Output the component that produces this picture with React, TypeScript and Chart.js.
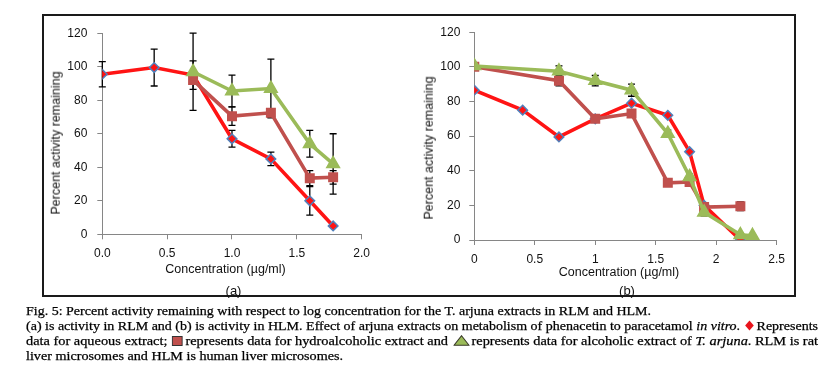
import React, { useEffect, useLayoutEffect, useRef } from "react";
import { Chart, registerables } from "chart.js";
Chart.register(...registerables);

// ---------- Panel (a): RLM ----------
const concAqueousA = [0, 0.4, 0.7, 1.0, 1.3, 1.6, 1.78];
const aqueousA = [95.5, 99.5, 95, 57, 45, 20, 5];
const aqueousErrA = [7.5, 11, 8.5, 5, 4, 8.5, 0];
const concExtractA = [0.7, 1.0, 1.3, 1.6, 1.78];
const hydroA = [92, 70.5, 72.5, 33.5, 34];
const hydroErrA = [2, 5.5, 2.5, 4.5, 4];
const alcoholA = [97, 85.5, 87, 54, 42];
const alcoholErrA = [23, 9.5, 17.5, 8, 18];

// ---------- Panel (b): HLM ----------
const concAqueousB = [0, 0.4, 0.7, 1.0, 1.3, 1.6, 1.78, 1.9, 2.2];
const aqueousB = [86.5, 75, 59.5, 70, 79, 72, 51, 20, 0];
const aqueousErrB = [0, 0, 0, 0, 0, 0, 0, 0, 0];
const concHydroB = [0, 0.7, 1.0, 1.3, 1.6, 1.78, 1.9, 2.2];
const hydroB = [100, 92, 70, 73, 33, 33.5, 19, 19.5];
const hydroErrB = [0, 3, 1, 1, 1, 2, 1, 2.5];
const concAlcoholB = [0, 0.7, 1.0, 1.3, 1.6, 1.78, 1.9, 2.2, 2.3];
const alcoholB = [100.5, 97.5, 92, 86.5, 61.5, 36.5, 16, 3, 2.5];
const alcoholErrB = [0, 3, 3, 3.5, 2, 1.5, 2, 0, 0];

// ---------- Tick labels ----------
const xTickLabelsA = ["0.0", "0.5", "1.0", "1.5", "2.0"];
const xTickLabelsB = ["0", "0.5", "1", "1.5", "2", "2.5"];
const yTickLabels = ["0", "20", "40", "60", "80", "100", "120"];

const RED = "#ff1414";
const BROWN = "#c0504d";
const GREEN = "#9bbb59";
const BLUE = "#4f81bd";
const AXIS = "#868686";
const TEXT = "#111";
const SANS = "'Liberation Sans', Arial, sans-serif";

const errorBarPlugin = {
  id: "errorBars",
  beforeDatasetsDraw(chart: any) {
    const { ctx } = chart;
    const ys = chart.scales.y;
    ctx.save();
    ctx.strokeStyle = "#000";
    ctx.lineWidth = 1.3;
    chart.data.datasets.forEach((ds: any, di: number) => {
      const errs = ds.errors;
      if (!errs) return;
      const meta = chart.getDatasetMeta(di);
      meta.data.forEach((pt: any, i: number) => {
        const e = errs[i];
        if (!e) return;
        const v = ds.data[i].y;
        const x = pt.x;
        const y1 = ys.getPixelForValue(v + e);
        const y2 = ys.getPixelForValue(v - e);
        ctx.beginPath();
        ctx.moveTo(x, y1);
        ctx.lineTo(x, y2);
        ctx.moveTo(x - 3.5, y1);
        ctx.lineTo(x + 3.5, y1);
        ctx.moveTo(x - 3.5, y2);
        ctx.lineTo(x + 3.5, y2);
        ctx.stroke();
      });
    });
    ctx.restore();
  },
};

function series(
  label: string,
  xs: number[],
  ys: number[],
  errs: number[],
  color: string,
  style: string,
  radius: number,
  border: string,
  order: number
) {
  return {
    label,
    data: xs.map((x, i) => ({ x, y: ys[i] })),
    errors: errs,
    borderColor: color,
    backgroundColor: color,
    borderWidth: 3.6,
    pointStyle: style,
    pointRadius: radius,
    pointBackgroundColor: color,
    pointBorderColor: border,
    pointBorderWidth: 1.5,
    tension: 0,
    order,
  };
}

function makeConfig(
  datasets: any[],
  xMax: number,
  xTicks: string[],
  yWidth: number,
  xHeight: number,
  padRight: number,
  padTop: number,
  yPad: number
): any {
  return {
    type: "line",
    data: { datasets },
    plugins: [errorBarPlugin],
    options: {
      animation: false,
      responsive: false,
      devicePixelRatio: 1,
      layout: { padding: { left: 0, right: padRight, top: padTop, bottom: 0 } },
      plugins: { legend: { display: false }, tooltip: { enabled: false } },
      scales: {
        x: {
          type: "linear",
          min: 0,
          max: xMax,
          ticks: {
            stepSize: 0.5,
            padding: 7,
            maxRotation: 0,
            color: TEXT,
            font: { family: SANS, size: 12 },
            callback: (v: any) => xTicks[Math.round(Number(v) / 0.5)],
          },
          grid: { drawOnChartArea: false, drawTicks: true, tickLength: 5, color: AXIS },
          border: { color: AXIS, width: 1 },
          afterFit: (s: any) => {
            s.height = xHeight;
          },
        },
        y: {
          min: 0,
          max: 120,
          ticks: {
            stepSize: 20,
            padding: yPad,
            color: TEXT,
            font: { family: SANS, size: 12 },
            callback: (v: any) => yTickLabels[Math.round(Number(v) / 20)],
          },
          grid: { drawOnChartArea: false, drawTicks: true, tickLength: 5, color: AXIS },
          border: { color: AXIS, width: 1 },
          afterFit: (s: any) => {
            s.width = yWidth;
          },
        },
      },
    },
  };
}

function Diamond() {
  return (
    <svg width="9" height="11" style={{ verticalAlign: "-1px", margin: "0 2px 0 1px" }}>
      <polygon points="4.5,0.5 8.5,5.5 4.5,10.5 0.5,5.5" fill="#e8141c" />
    </svg>
  );
}
function Square() {
  return (
    <svg width="10" height="10" style={{ verticalAlign: "-1px", margin: "0 2px 0 1px" }}>
      <rect x="0.5" y="0.5" width="9" height="9" fill={BROWN} stroke="#333" strokeWidth="1" />
    </svg>
  );
}
function Triangle() {
  return (
    <svg width="15" height="11" style={{ verticalAlign: "-1px", margin: "0 2px 0 1px" }}>
      <polygon points="7.5,0.7 14.3,10.3 0.7,10.3" fill={GREEN} stroke="#3a3a2a" strokeWidth="1" />
    </svg>
  );
}

const captionTargets = [625, 792, 792, 317];

export default function App() {
  const refA = useRef<HTMLCanvasElement | null>(null);
  const refB = useRef<HTMLCanvasElement | null>(null);
  const lineRefs = useRef<(HTMLDivElement | null)[]>([]);

  useEffect(() => {
    const dsA = [
      series("Aqueous", concAqueousA, aqueousA, aqueousErrA, RED, "rectRot", 4.8, BLUE, 2),
      series("Hydroalcoholic", concExtractA, hydroA, hydroErrA, BROWN, "rect", 6, BROWN, 1),
      series("Alcoholic", concExtractA, alcoholA, alcoholErrA, GREEN, "triangle", 7.3, GREEN, 0),
    ];
    const dsB = [
      series("Aqueous", concAqueousB, aqueousB, aqueousErrB, RED, "rectRot", 4.8, BLUE, 2),
      series("Hydroalcoholic", concHydroB, hydroB, hydroErrB, BROWN, "rect", 6, BROWN, 1),
      series("Alcoholic", concAlcoholB, alcoholB, alcoholErrB, GREEN, "triangle", 7.3, GREEN, 0),
    ];
    const cA = new Chart(refA.current as any, makeConfig(dsA, 2, xTickLabelsA, 58.3, 59.7, 9, 10, 10));
    const cB = new Chart(refB.current as any, makeConfig(dsB, 2.5, xTickLabelsB, 70.3, 54, 8.7, 10.7, 9));
    return () => {
      cA.destroy();
      cB.destroy();
    };
  }, []);

  useLayoutEffect(() => {
    lineRefs.current.forEach((el, i) => {
      if (!el) return;
      el.style.transform = "none";
      const w = el.getBoundingClientRect().width;
      if (w > 0) el.style.transform = `scaleX(${captionTargets[i] / w})`;
    });
  }, []);

  const centered = (cx: number, cy: number, size: number, rotate = false): React.CSSProperties => ({
    position: "absolute",
    left: cx,
    top: cy,
    transform: `translate(-50%, -50%)${rotate ? " rotate(-90deg)" : ""}`,
    whiteSpace: "nowrap",
    fontFamily: SANS,
    fontSize: size,
    lineHeight: 1,
    color: TEXT,
  });

  const capLine = (i: number, top: number): React.CSSProperties => ({
    position: "absolute",
    left: 26,
    top,
    whiteSpace: "nowrap",
    fontFamily: "'Liberation Serif', 'Times New Roman', serif",
    fontSize: 13,
    lineHeight: "15px",
    color: "#000",
    WebkitTextStroke: "0.25px #000",
    transformOrigin: "0 0",
  });

  return (
    <div style={{ position: "absolute", left: 0, top: 0, width: 828, height: 368, background: "#fff" }}>
      <div
        style={{
          position: "absolute",
          left: 42,
          top: 14,
          width: 754,
          height: 283,
          border: "2px solid #1a1a1a",
          boxSizing: "border-box",
        }}
      />
      <canvas ref={refA} width={333} height={278} style={{ position: "absolute", left: 44, top: 16 }} />
      <canvas ref={refB} width={388} height={278} style={{ position: "absolute", left: 404, top: 16 }} />

      <div style={centered(55.5, 143, 12.5, true)}>Percent activity remaining</div>
      <div style={centered(428.5, 147.5, 12.5, true)}>Percent activity remaining</div>
      <div style={centered(225.5, 268.5, 12.5)}>Concentration (µg/ml)</div>
      <div style={centered(619, 271.5, 12.5)}>Concentration (µg/ml)</div>
      <div style={centered(233.5, 290, 13)}>(a)</div>
      <div style={centered(627, 290, 13)}>(b)</div>

      <div ref={(el) => { lineRefs.current[0] = el; }} style={capLine(0, 303)}>
        Fig. 5: Percent activity remaining with respect to log concentration for the T. arjuna extracts in RLM and HLM.
      </div>
      <div ref={(el) => { lineRefs.current[1] = el; }} style={capLine(1, 318)}>
        (a) is activity in RLM and (b) is activity in HLM. Effect of arjuna extracts on metabolism of phenacetin to paracetamol <i>in vitro</i>. <Diamond />Represents
      </div>
      <div ref={(el) => { lineRefs.current[2] = el; }} style={capLine(2, 333)}>
        data for aqueous extract; <Square />represents data for hydroalcoholic extract and <Triangle />represents data for alcoholic extract of <i>T. arjuna</i>. RLM is rat
      </div>
      <div ref={(el) => { lineRefs.current[3] = el; }} style={capLine(3, 348)}>
        liver microsomes and HLM is human liver microsomes.
      </div>
    </div>
  );
}
